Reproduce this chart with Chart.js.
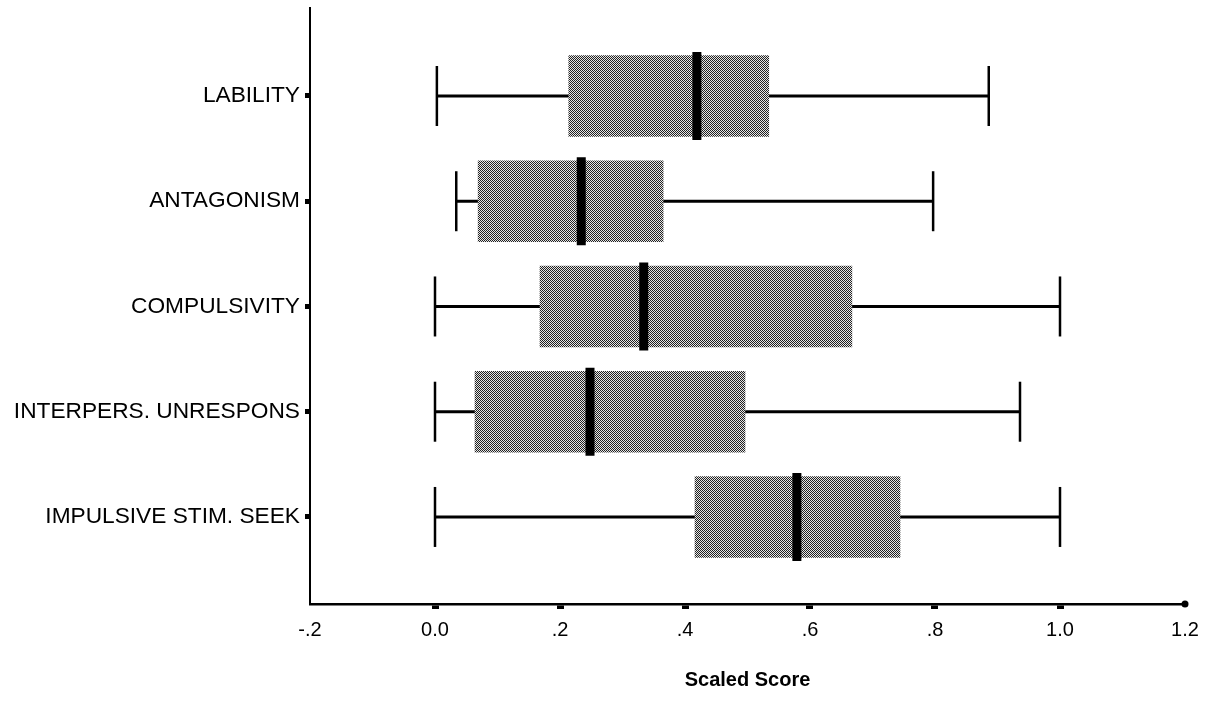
<!DOCTYPE html>
<html>
<head>
<meta charset="utf-8">
<script src="https://cdn.jsdelivr.net/npm/chart.js@4/dist/chart.umd.min.js"></script>
<style>
  html, body { margin: 0; padding: 0; background: #fff; overflow: hidden; }
  canvas { display: block; }
</style>
</head>
<body>
<canvas id="c" width="1214" height="708" style="width:1214px;height:708px"></canvas>
<script>
// ---- Data ----
const categories = ['LABILITY', 'ANTAGONISM', 'COMPULSIVITY', 'INTERPERS. UNRESPONS', 'IMPULSIVE STIM. SEEK'];
const whiskerMin = [0.003, 0.034, 0.0, 0.0, 0.0];
const q1Values   = [0.214, 0.069, 0.168, 0.064, 0.416];
const medians    = [0.419, 0.234, 0.334, 0.248, 0.579];
const q3Values   = [0.534, 0.365, 0.667, 0.496, 0.744];
const whiskerMax = [0.886, 0.797, 1.0, 0.936, 1.0];
const xTickLabels = ['-.2', '0.0', '.2', '.4', '.6', '.8', '1.0', '1.2'];
const xMin = -0.2, xMax = 1.2, xStep = 0.2;
const yMin = 0.164, yMax = 5.827;

const FONT = '"Liberation Sans", Arial, sans-serif';

// dotted grey texture for the boxes
function makePattern() {
  const p = document.createElement('canvas');
  p.width = 2; p.height = 2;
  const g = p.getContext('2d');
  g.fillStyle = '#e6e6e6'; g.fillRect(0, 0, 2, 2);
  g.fillStyle = '#222222'; g.fillRect(0, 0, 1, 1); g.fillRect(1, 1, 1, 1);
  return g.createPattern(p, 'repeat');
}
const boxPattern = makePattern();

const pos = categories.map((_, i) => i + 1);

const whiskerData = pos.map((y, i) => ({ x: [whiskerMin[i], whiskerMax[i]], y }));
const boxData = pos.map((y, i) => ({ x: [q1Values[i], q3Values[i]], y }));
const medianData = pos.map((y, i) => ({ x: medians[i], y }));
const capData = [];
pos.forEach((y, i) => { capData.push({ x: whiskerMin[i], y }); capData.push({ x: whiskerMax[i], y }); });

new Chart(document.getElementById('c'), {
  type: 'bar',
  data: {
    datasets: [
      {
        type: 'scatter', label: 'median', data: medianData, order: 0,
        pointStyle: 'line', rotation: 90, radius: 44, hoverRadius: 44,
        borderColor: '#000', borderWidth: 9, backgroundColor: '#000', clip: false
      },
      {
        type: 'bar', label: 'box', data: boxData, order: 1,
        backgroundColor: boxPattern, borderWidth: 0, barThickness: 81, grouped: false
      },
      {
        type: 'bar', label: 'whisker', data: whiskerData, order: 2,
        backgroundColor: '#000', borderWidth: 0, barThickness: 2.5, grouped: false
      },
      {
        type: 'scatter', label: 'caps', data: capData, order: 3,
        pointStyle: 'line', rotation: 90, radius: 30, hoverRadius: 30,
        borderColor: '#000', borderWidth: 2.5, clip: false
      },
      {
        type: 'scatter', label: 'axisEnd', data: [{ x: xMax, y: yMax }], order: 4,
        pointStyle: 'circle', radius: 3.5, backgroundColor: '#000', borderColor: '#000', borderWidth: 0,
        clip: false
      }
    ]
  },
  options: {
    indexAxis: 'y',
    responsive: false,
    maintainAspectRatio: false,
    animation: false,
    events: [],
    layout: { autoPadding: false, padding: { top: 8, right: 29, left: 0, bottom: 0 } },
    plugins: { legend: { display: false }, tooltip: { enabled: false } },
    scales: {
      x: {
        type: 'linear', min: xMin, max: xMax, offset: false,
        ticks: {
          stepSize: xStep, color: '#000', padding: 9,
          font: { family: FONT, size: 20 },
          callback: (v, i) => xTickLabels[i]
        },
        grid: {
          offset: false, drawOnChartArea: false, tickLength: 5, tickWidth: 7,
          tickColor: (ctx) => (ctx.tick && (Math.abs(ctx.tick.value - xMin) < 1e-6 || Math.abs(ctx.tick.value - xMax) < 1e-6)) ? 'rgba(0,0,0,0)' : '#000'
        },
        border: { display: true, color: '#000', width: 2.5 },
        title: {
          display: true, text: 'Scaled Score', color: '#000',
          font: { family: FONT, size: 20, weight: 'bold' },
          padding: { top: 0, bottom: 16 }
        },
        afterFit: (s) => { s.height = 104; s.paddingLeft = 0; s.paddingRight = 0; }
      },
      y: {
        type: 'linear', min: yMin, max: yMax, reverse: true, offset: false,
        afterBuildTicks: (s) => { s.ticks = pos.map(v => ({ value: v })); },
        ticks: {
          color: '#000', padding: 5,
          font: { family: FONT, size: 22.7 },
          callback: (v) => categories[Math.round(v) - 1] || ''
        },
        grid: { offset: false, drawOnChartArea: false, tickLength: 5, tickWidth: 5, tickColor: '#000' },
        border: { display: true, color: '#000', width: 2 },
        afterFit: (s) => { s.width = 310; s.paddingTop = 0; s.paddingBottom = 0; }
      }
    }
  }
});
</script>
</body>
</html>
